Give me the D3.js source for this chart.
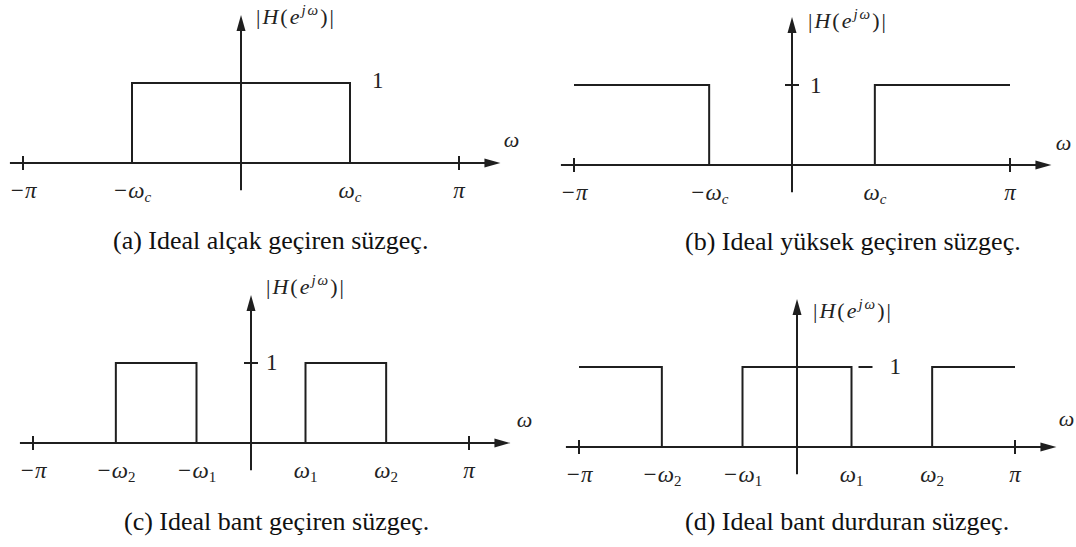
<!DOCTYPE html>
<html>
<head>
<meta charset="utf-8">
<script src="https://cdn.jsdelivr.net/npm/d3@7"></script>
<style>
  body { margin: 0; background: #fff; }
  svg { display: block; }
  .axis-line { stroke: #1f1f1f; stroke-width: 2; fill: none; }
  .resp { stroke: #1f1f1f; stroke-width: 2; fill: none; stroke-linejoin: miter; }
  .arrow { fill: #1f1f1f; }
  .math { font-family: "Liberation Serif", "Times New Roman", serif; font-style: italic; fill: #222; }
  .num { font-family: "Liberation Serif", "Times New Roman", serif; fill: #222; }
  .caption { font-family: "Liberation Serif", "Times New Roman", serif; fill: #111; font-size: 26px; }
</style>
</head>
<body>
<svg id="chart" width="1076" height="547"></svg>
<script>
// ---- DATA (frequencies in units of pi, gain in |H|) ----
const lowpassBands  = [[-0.5, 0.5]]
const highpassBands = [[-1, -0.38], [0.38, 1]]
const bandpassBands = [[-0.62, -0.25], [0.25, 0.62]]
const bandstopBands = [[-1, -0.62], [-0.25, 0.25], [0.62, 1]]

const lowpassTicks  = [[-1, '−π'], [-0.5, '−ω', 'c'], [0.5, 'ω', 'c'], [1, 'π']]
const highpassTicks = [[-1, '−π'], [-0.38, '−ω', 'c'], [0.38, 'ω', 'c'], [1, 'π']]
const bandpassTicks = [[-1, '−π'], [-0.62, '−ω', '2'], [-0.25, '−ω', '1'], [0.25, 'ω', '1'], [0.62, 'ω', '2'], [1, 'π']]
const bandstopTicks = [[-1, '−π'], [-0.62, '−ω', '2'], [-0.25, '−ω', '1'], [0.25, 'ω', '1'], [0.62, 'ω', '2'], [1, 'π']]

const captions = ['(a) Ideal alçak geçiren süzgeç.', '(b) Ideal yüksek geçiren süzgeç.',
                  '(c) Ideal bant geçiren süzgeç.', '(d) Ideal bant durduran süzgeç.']

// ---- LAYOUT per panel ----
const panels = [
    { bands: lowpassBands,  ticks: lowpassTicks,  cx: 241, cy: 163, caption: captions[0], capX: 113, capY: 249,
      oneMark: 'none', oneAt: 0.5, oneDx: 22, oneDy: 5, hLabel: [15, 9], wLabel: [11, -16] },
    { bands: highpassBands, ticks: highpassTicks, cx: 792, cy: 165, caption: captions[1], capX: 685, capY: 250,
      oneMark: 'tick', oneAt: 0, oneDx: 18, oneDy: 8, hLabel: [16, 11], wLabel: [12, -15] },
    { bands: bandpassBands, ticks: bandpassTicks, cx: 251, cy: 443, caption: captions[2], capX: 124, capY: 530,
      oneMark: 'tick', oneAt: 0, oneDx: 15, oneDy: 7, hLabel: [15, -1], wLabel: [14, -16] },
    { bands: bandstopBands, ticks: bandstopTicks, cx: 797, cy: 447, caption: captions[3], capX: 685, capY: 530,
      oneMark: 'dash', oneAt: 0.25, oneDx: 38, oneDy: 7, hLabel: [16, 19], wLabel: [10, -21] }
]

const halfW = 218, unitH = 80

const svg = d3.select('#chart')

panels.forEach(p => {
    const x = d3.scaleLinear().domain([-1, 1]).range([p.cx - halfW, p.cx + halfW])
    const y = d3.scaleLinear().domain([0, 1]).range([p.cy, p.cy - unitH])
    const g = svg.append('g')

    // horizontal axis with arrow
    const xStart = x(-1.06), xTip = x(1.19)
    g.append('line').attr('class', 'axis-line')
        .attr('x1', xStart).attr('x2', xTip - 10).attr('y1', y(0)).attr('y2', y(0))
    g.append('path').attr('class', 'arrow')
        .attr('d', `M${xTip},${y(0)} L${xTip - 16},${y(0) - 4.5} L${xTip - 16},${y(0) + 4.5} Z`)

    // vertical axis with arrow
    const yTip = y(1.85)
    g.append('line').attr('class', 'axis-line')
        .attr('x1', x(0)).attr('x2', x(0)).attr('y1', y(-0.34)).attr('y2', yTip + 10)
    g.append('path').attr('class', 'arrow')
        .attr('d', `M${x(0)},${yTip} L${x(0) - 4.5},${yTip + 16} L${x(0) + 4.5},${yTip + 16} Z`)

    // ticks at +/- pi
    p.ticks.filter(t => Math.abs(t[0]) === 1).forEach(t => {
        g.append('line').attr('class', 'axis-line')
            .attr('x1', x(t[0])).attr('x2', x(t[0])).attr('y1', y(0) - 7).attr('y2', y(0) + 7)
    })

    // pass bands
    p.bands.forEach(([a, b]) => {
        const pts = []
        if (a > -1) pts.push([a, 0])
        pts.push([a, 1], [b, 1])
        if (b < 1) pts.push([b, 0])
        g.append('path').attr('class', 'resp')
            .attr('d', d3.line().x(d => x(d[0])).y(d => y(d[1]))(pts))
    })

    // tick labels
    p.ticks.forEach(t => {
        const txt = g.append('text').attr('class', 'math')
            .attr('x', x(t[0])).attr('y', y(0) + 35)
            .attr('text-anchor', 'middle').attr('font-size', 23)
        txt.append('tspan').text(t[1])
        if (t[2]) {
            const isDigit = /\d/.test(t[2])
            txt.append('tspan').attr('dy', 4).attr('font-size', 15)
                .attr('font-style', isDigit ? 'normal' : 'italic').text(t[2])
        }
    })

    // gain "1" marker
    const oneX = x(p.oneAt) + p.oneDx
    if (p.oneMark === 'tick') {
        g.append('line').attr('class', 'axis-line')
            .attr('x1', x(0) - 7).attr('x2', x(0) + 7).attr('y1', y(1)).attr('y2', y(1))
    }
    if (p.oneMark === 'dash') {
        g.append('line').attr('class', 'axis-line')
            .attr('x1', x(p.oneAt) + 7).attr('x2', x(p.oneAt) + 21).attr('y1', y(1)).attr('y2', y(1))
    }
    g.append('text').attr('class', 'num')
        .attr('x', oneX).attr('y', y(1) + p.oneDy).attr('font-size', 23).text('1')

    // |H(e^jw)| label
    const h = g.append('text').attr('class', 'math')
        .attr('x', x(0) + p.hLabel[0]).attr('y', yTip + p.hLabel[1])
        .attr('font-size', 22).attr('letter-spacing', 2)
    h.append('tspan').attr('font-style', 'normal').text('|')
    h.append('tspan').text('H')
    h.append('tspan').attr('font-style', 'normal').text('(')
    h.append('tspan').text('e')
    h.append('tspan').attr('dy', -9).attr('font-size', 15).text('jω')
    h.append('tspan').attr('dy', 9).attr('font-style', 'normal').text(')|')

    // omega axis label
    g.append('text').attr('class', 'math')
        .attr('x', xTip + p.wLabel[0]).attr('y', y(0) + p.wLabel[1])
        .attr('font-size', 22).attr('text-anchor', 'middle').text('ω')

    // caption
    svg.append('text').attr('class', 'caption')
        .attr('x', p.capX).attr('y', p.capY).text(p.caption)
})
</script>
</body>
</html>
